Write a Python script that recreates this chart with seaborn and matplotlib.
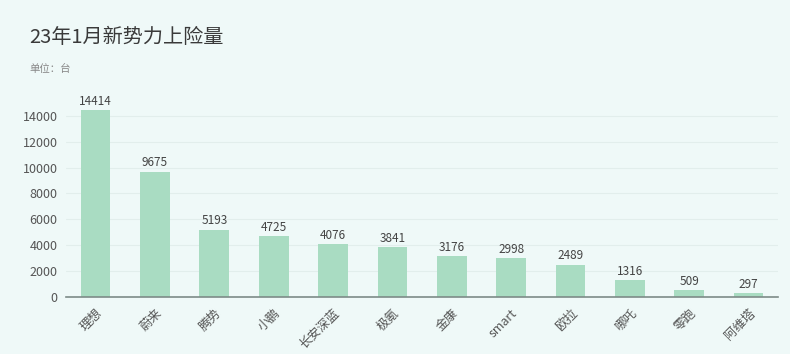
import seaborn as sns
import matplotlib.pyplot as plt
import pandas as pd

brands = ["理想", "蔚来", "腾势", "小鹏", "长安深蓝", "极氪", "金康", "smart", "欧拉", "哪吒", "零跑", "阿维塔"]
counts = [14414, 9675, 5193, 4725, 4076, 3841, 3176, 2998, 2489, 1316, 509, 297]
yticks = [0, 2000, 4000, 6000, 8000, 10000, 12000, 14000]

df = pd.DataFrame({"brand": brands, "count": counts})

sns.set_style("white")
plt.rcParams['font.family'] = ['Noto Sans CJK SC', 'DejaVu Sans']

bg = "#eff9f8"
fig = plt.figure(figsize=(7.9, 3.54), dpi=100, facecolor=bg)
ax = fig.add_axes([0.0835, 0.161, 0.9015, 0.585])
ax.set_facecolor(bg)

sns.barplot(data=df, x="brand", y="count", color="#a9dcc2", width=0.5, ax=ax,
            saturation=1, linewidth=0, edgecolor="none")

for i, v in enumerate(counts):
    ax.text(i, v + 180, str(v), ha="center", va="bottom", fontsize=8.5, color="#444444")

ax.set_ylim(0, 16000)
ax.set_xlim(-0.5, len(brands) - 0.5)
ax.set_yticks(yticks)
ax.yaxis.grid(True, color="#e2eeec", linewidth=0.8)
ax.set_axisbelow(True)
for s in ["top", "right", "left"]:
    ax.spines[s].set_visible(False)
ax.spines["bottom"].set_color("#7d8b88")
ax.spines["bottom"].set_linewidth(1.2)
ax.tick_params(axis="y", length=0, labelsize=9, labelcolor="#555555", pad=6)
ax.tick_params(axis="x", length=3, color="#7d8b88", labelsize=9, labelcolor="#555555", pad=4)
plt.setp(ax.get_xticklabels(), rotation=45, ha="right", rotation_mode="anchor")
ax.set_xlabel("")
ax.set_ylabel("")

fig.text(0.037, 0.895, "23年1月新势力上险量", fontsize=14.5, color="#3a3a3a", va="center")
fig.text(0.037, 0.805, "单位：台", fontsize=7.5, color="#888888", va="center")

fig.savefig("out.png", dpi=100, facecolor=bg)
